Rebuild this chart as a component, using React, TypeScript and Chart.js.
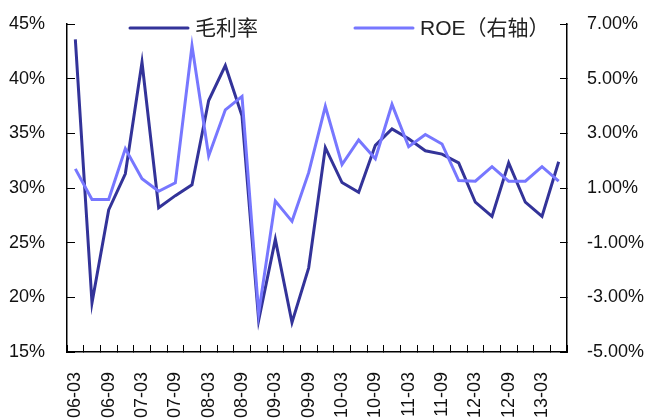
import React, { useEffect, useRef } from "react";
import { Chart, registerables } from "chart.js";

Chart.register(...registerables);

const categories: string[] = [
  "06-03", "06-06", "06-09", "06-12",
  "07-03", "07-06", "07-09", "07-12",
  "08-03", "08-06", "08-09", "08-12",
  "09-03", "09-06", "09-09", "09-12",
  "10-03", "10-06", "10-09", "10-12",
  "11-03", "11-06", "11-09", "11-12",
  "12-03", "12-06", "12-09", "12-12",
  "13-03", "13-06",
];

const grossMargin: number[] = [
  43.6, 19.5, 28.0, 31.3, 41.5, 28.2, 29.3, 30.3, 38.0, 41.2,
  36.6, 17.9, 25.3, 17.7, 22.7, 33.7, 30.5, 29.6, 33.9, 35.4,
  34.5, 33.4, 33.1, 32.3, 28.7, 27.4, 32.3, 28.7, 27.4, 32.4,
];

const roe: number[] = [
  1.70, 0.58, 0.58, 2.44, 1.34, 0.88, 1.19, 6.20, 2.17, 3.86,
  4.35, -3.58, 0.52, -0.22, 1.56, 3.99, 1.86, 2.76, 2.07, 4.06,
  2.51, 2.96, 2.61, 1.27, 1.25, 1.78, 1.25, 1.25, 1.78, 1.25,
];

const seriesNames: string[] = ["毛利率", "ROE（右轴）"];

const FONT = "'Liberation Sans Narrow', 'Arial Narrow', 'Liberation Sans', 'Noto Sans CJK SC', sans-serif";

const legendPlugin = {
  id: "customLegend",
  afterDraw(chart: any) {
    const ctx = chart.ctx;
    const slots = [130, 355];
    ctx.save();
    chart.data.datasets.forEach((ds: any, i: number) => {
      const x = slots[i];
      const y = 28;
      ctx.strokeStyle = ds.borderColor;
      ctx.lineWidth = 3;
      ctx.lineCap = "round";
      ctx.beginPath();
      ctx.moveTo(x, y);
      ctx.lineTo(x + 58, y);
      ctx.stroke();
      ctx.fillStyle = "#222";
      ctx.font = `21px ${FONT}`;
      ctx.textBaseline = "middle";
      ctx.textAlign = "left";
      ctx.fillText(ds.label, x + 65, y + 1);
    });
    ctx.restore();
  },
};

export default function App() {
  const ref = useRef<HTMLCanvasElement | null>(null);

  useEffect(() => {
    document.body.style.margin = "0";
    if (!ref.current) return;
    const tickFont = { family: FONT, size: 18 };
    const chart = new Chart(ref.current, {
      type: "line",
      data: {
        labels: categories,
        datasets: [
          {
            label: seriesNames[0],
            data: grossMargin,
            borderColor: "#333399",
            backgroundColor: "#333399",
            borderWidth: 3,
            pointRadius: 0,
            tension: 0,
            yAxisID: "y",
            order: 1,
          },
          {
            label: seriesNames[1],
            data: roe,
            borderColor: "#7777FF",
            backgroundColor: "#7777FF",
            borderWidth: 3,
            pointRadius: 0,
            tension: 0,
            yAxisID: "y1",
            order: 0,
          },
        ],
      },
      options: {
        responsive: false,
        animation: false,
        layout: { padding: { top: 24, left: 0, right: 0, bottom: 0 } },
        plugins: {
          legend: { display: false },
          tooltip: { enabled: false },
        },
        scales: {
          x: {
            type: "category",
            offset: true,
            grid: {
              offset: true,
              drawOnChartArea: false,
              drawTicks: true,
              tickLength: -7,
              color: "#000",
            },
            border: { color: "#000", width: 1.5 },
            ticks: {
              autoSkip: false,
              minRotation: 90,
              maxRotation: 90,
              padding: 27,
              color: "#111",
              font: tickFont,
              callback: (_v: any, i: number) => (i % 2 === 0 ? categories[i] : ""),
            },
            afterFit: (s: any) => {
              s.height = 66;
              s.paddingLeft = 0;
              s.paddingRight = 0;
            },
          },
          y: {
            position: "left",
            min: 15,
            max: 45,
            grid: {
              drawOnChartArea: false,
              drawTicks: true,
              tickLength: -8,
              color: "#000",
            },
            border: { color: "#000", width: 1.5 },
            ticks: {
              stepSize: 5,
              padding: 30,
              color: "#111",
              font: tickFont,
              callback: (v: any) => `${v}%`,
            },
            afterFit: (s: any) => {
              s.width = 67;
              s.paddingTop = 0;
              s.paddingBottom = 0;
            },
          },
          y1: {
            position: "right",
            min: -5,
            max: 7,
            grid: {
              drawOnChartArea: false,
              drawTicks: true,
              tickLength: -7,
              color: "#000",
            },
            border: { color: "#000", width: 1.5 },
            ticks: {
              stepSize: 2,
              padding: 27,
              color: "#111",
              font: tickFont,
              callback: (v: any) => `${Number(v).toFixed(2)}%`,
            },
            afterFit: (s: any) => {
              s.width = 79;
              s.paddingTop = 0;
              s.paddingBottom = 0;
            },
          },
        },
      },
      plugins: [legendPlugin],
    });
    return () => chart.destroy();
  }, []);

  return (
    <div style={{ position: "fixed", left: 0, top: 0, width: 646, height: 418 }}>
      <canvas ref={ref} width={646} height={418} />
    </div>
  );
}
